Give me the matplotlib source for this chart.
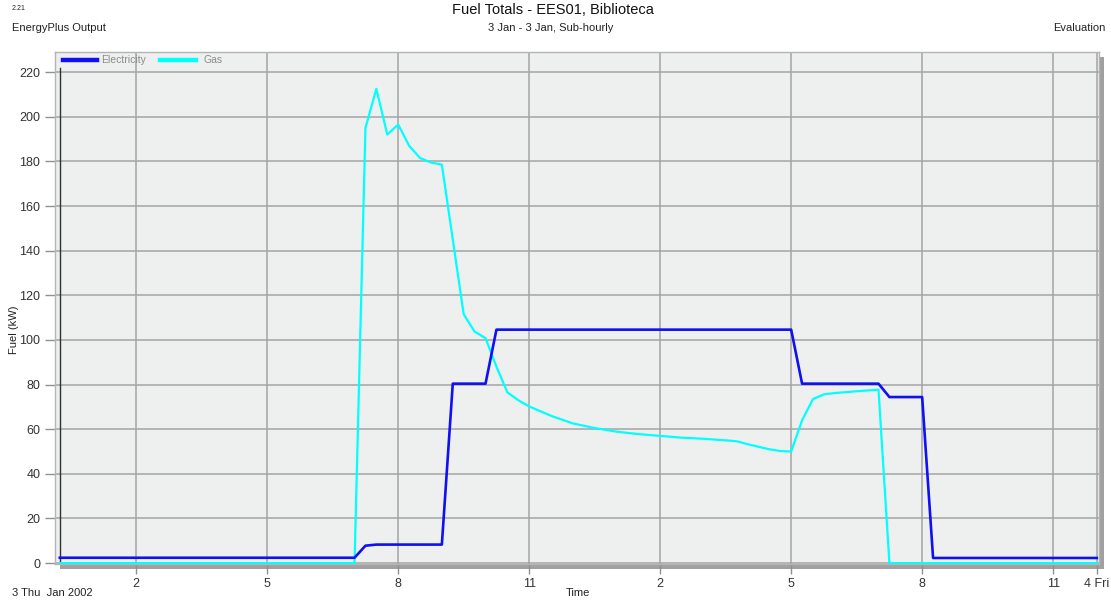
import matplotlib
matplotlib.use("Agg")
import matplotlib.pyplot as plt
from matplotlib.patches import Rectangle

plt.rcParams['font.family'] = ['Liberation Sans', 'DejaVu Sans']

# hours of 3 Jan (15 min steps, only where the slope changes)
elec_t = [0.25, 7.0, 7.25, 7.5, 9.0, 9.25, 10.0, 10.25, 17.0, 17.25, 19.0, 19.25, 20.0, 20.25, 24.0]
elec_kw = [2.4, 2.4, 7.8, 8.3, 8.3, 80.4, 80.4, 104.6, 104.6, 80.4, 80.4, 74.4, 74.4, 2.3, 2.3]

gas_t = [0.25, 7.0, 7.25, 7.5, 7.75, 8.0, 8.25, 8.5, 8.75, 9.0, 9.25, 9.5, 9.75, 10.0,
         10.25, 10.5, 10.75, 11.0, 11.5, 12.0, 12.5, 13.0, 13.5, 14.0, 14.5, 15.0, 15.5,
         15.75, 16.0, 16.5, 16.75, 17.0, 17.25, 17.5, 17.75, 18.0, 18.5, 19.0, 19.25, 24.0]
gas_kw = [0, 0, 195, 212.5, 192, 196.5, 187, 181.5, 179.5, 178.5, 145, 111.5, 103.7, 100.8,
          88, 76.5, 73, 70.2, 66, 62.6, 60.5, 58.9, 57.8, 57, 56.2, 55.7, 55.0,
          54.6, 53.3, 51.0, 50.2, 50.0, 64, 73.5, 75.6, 76.2, 77, 77.7, 0, 0]

xtick_pos = [2, 5, 8, 11, 14, 17, 20, 23, 24]
xtick_lab = ['2', '5', '8', '11', '2', '5', '8', '11', '4 Fri']
yticks = list(range(0, 221, 20))

W, H = 1111, 603
fig = plt.figure(figsize=(W / 100, H / 100), dpi=100)

l, r, t, b = 55, 1099, 52, 564
ax = fig.add_axes([l / W, 1 - b / H, (r - l) / W, (b - t) / H])

# 3d shadow behind the plot box
fig.patches.append(Rectangle(((l + 5) / W, 1 - (b + 5) / H), (r - l) / W, (b - t) / H,
                             transform=fig.transFigure, facecolor='#a0a0a0',
                             edgecolor='none', zorder=0))

ax.set_facecolor('#eef0ef')
ax.set_zorder(1)
for s in ax.spines.values():
    s.set_color('#b4b4b4')
    s.set_linewidth(1)

ax.set_xlim(0.14, 24.05)
ax.set_ylim(-0.4, 229)

ax.set_xticks(xtick_pos)
ax.set_xticklabels(xtick_lab)
ax.set_yticks(yticks)
ax.tick_params(axis='both', colors='#909090', labelcolor='#333333', labelsize=9,
               length=7, width=1)
ax.tick_params(axis='x', pad=3)
ax.grid(True, color='#a4a4a4', linewidth=1.1, zorder=0)
ax.set_axisbelow(True)

ax.plot([0.25, 0.25], [0, 222], color='#303030', lw=1, zorder=2)

ax.plot(gas_t, gas_kw, color='#00ffff', lw=1.6, zorder=3, label='Gas')
ax.plot(elec_t, elec_kw, color='#1010f0', lw=1.9, zorder=4, label='Electricity')

# legend strip along the top of the plot
ax.plot([0.32, 1.1], [225.5, 225.5], color='#1010f0', lw=3.2, clip_on=False, zorder=5)
ax.text(1.2, 225.6, 'Electricity', color='#8a8a8a', fontsize=7.5, va='center')
ax.plot([2.55, 3.37], [225.5, 225.5], color='#00ffff', lw=3.2, clip_on=False, zorder=5)
ax.text(3.55, 225.6, 'Gas', color='#8a8a8a', fontsize=7.5, va='center')

fig.text(14 / W, 1 - 330 / H, 'Fuel (kW)', rotation=90, ha='center', va='center',
         fontsize=8, color='#222222')
fig.text(553 / W, 1 - 10 / H, 'Fuel Totals - EES01, Biblioteca', ha='center', va='center',
         fontsize=10.5, color='#111111')
fig.text(551 / W, 1 - 28 / H, '3 Jan - 3 Jan, Sub-hourly', ha='center', va='center',
         fontsize=8, color='#222222')
fig.text(12 / W, 1 - 28 / H, 'EnergyPlus Output', ha='left', va='center',
         fontsize=8, color='#222222')
fig.text(1106 / W, 1 - 28 / H, 'Evaluation', ha='right', va='center',
         fontsize=8, color='#222222')
fig.text(12 / W, 1 - 8 / H, '2.21', ha='left', va='center', fontsize=5, color='#222222')
fig.text(578 / W, 1 - 593 / H, 'Time', ha='center', va='center', fontsize=8, color='#222222')
fig.text(12 / W, 1 - 593 / H, '3 Thu  Jan 2002', ha='left', va='center',
         fontsize=8, color='#222222')

fig.savefig('out.png', dpi=100)
